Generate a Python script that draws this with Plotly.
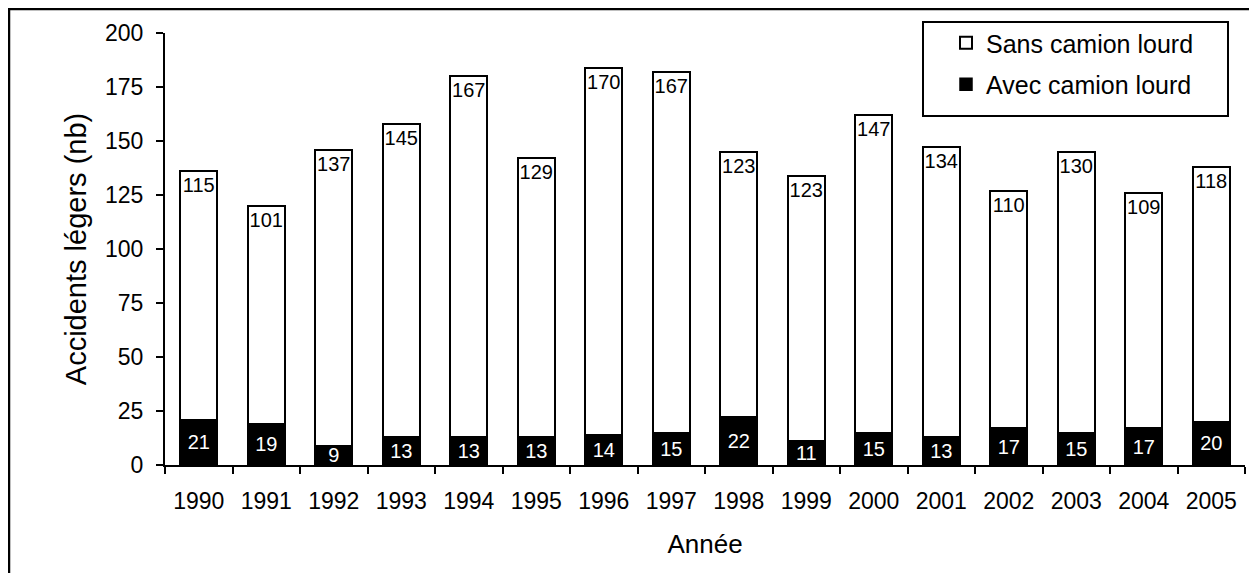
import plotly.graph_objects as go

years = ["1990", "1991", "1992", "1993", "1994", "1995", "1996", "1997",
         "1998", "1999", "2000", "2001", "2002", "2003", "2004", "2005"]
avec = [21, 19, 9, 13, 13, 13, 14, 15, 22, 11, 15, 13, 17, 15, 17, 20]
sans = [115, 101, 137, 145, 167, 129, 170, 167, 123, 123, 147, 134, 110, 130, 109, 118]

FONT = "Liberation Sans, Arial, Helvetica, sans-serif"

fig = go.Figure()
fig.add_trace(go.Bar(
    x=years, y=avec, name="Avec camion lourd", legendgroup="a", legendrank=2,
    marker=dict(color="black", line=dict(color="black", width=1.5)),
    text=[str(v) for v in avec], textposition="inside", insidetextanchor="middle",
    textangle=0, textfont=dict(color="white", size=20, family=FONT), width=0.55,
    constraintext="none",
))
fig.add_trace(go.Bar(
    x=years, y=sans, name="Sans camion lourd", legendgroup="b", legendrank=1,
    marker=dict(color="white", line=dict(color="black", width=2)),
    text=[str(v) for v in sans], textposition="inside", insidetextanchor="end",
    textangle=0, textfont=dict(color="black", size=20, family=FONT), width=0.55,
    constraintext="none",
))

# page has an 8px body margin; work in screen pixels and shift
OFF = 8
W, H = 1257 - 2 * OFF, 581 - 2 * OFF
L, T = 165 - OFF, 33 - OFF
B = H - (465 - OFF)
R = W - (1245 - OFF)
pw, ph = W - L - R, H - T - B


def px(x):
    return (x - OFF - L) / pw


def py(y):
    return (H - B - (y - OFF)) / ph


fig.update_layout(
    width=W, height=H, barmode="stack",
    margin=dict(l=L, r=R, t=T, b=B, autoexpand=False),
    plot_bgcolor="white", paper_bgcolor="white",
    font=dict(family=FONT, size=23, color="black"),
    uniformtext=dict(minsize=8, mode="show"),
    showlegend=True,
    legend=dict(
        x=px(946), y=py(20), xanchor="left", yanchor="top",
        borderwidth=0, bgcolor="rgba(0,0,0,0)",
        traceorder="grouped", font=dict(size=25, family=FONT),
        itemwidth=30, tracegroupgap=6,
    ),
    xaxis=dict(
        title=dict(text="Année", font=dict(size=26), standoff=22),
        showline=True, linecolor="black", linewidth=2,
        ticks="outside", tickson="boundaries", ticklen=7, tickwidth=2,
        tickcolor="black", showgrid=False, range=[-0.5, 15.5],
        ticklabelstandoff=14,
    ),
    yaxis=dict(
        title=dict(text="Accidents légers (nb)", font=dict(size=29), standoff=10),
        range=[0, 200], dtick=25, showline=True, linecolor="black", linewidth=2,
        ticks="outside", ticklen=7, tickwidth=2, tickcolor="black",
        showgrid=False, zeroline=False, ticklabelstandoff=8,
    ),
    shapes=[
        dict(
            type="rect", xref="paper", yref="paper",
            x0=px(9), x1=px(1270), y0=py(600), y1=py(9),
            line=dict(color="black", width=2.5), fillcolor="rgba(0,0,0,0)",
            layer="above",
        ),
        dict(
            type="rect", xref="paper", yref="paper",
            x0=px(923), x1=px(1228), y0=py(116), y1=py(22),
            line=dict(color="black", width=2), fillcolor="white",
            layer="above",
        ),
    ],
)

fig.write_html("out.html")
